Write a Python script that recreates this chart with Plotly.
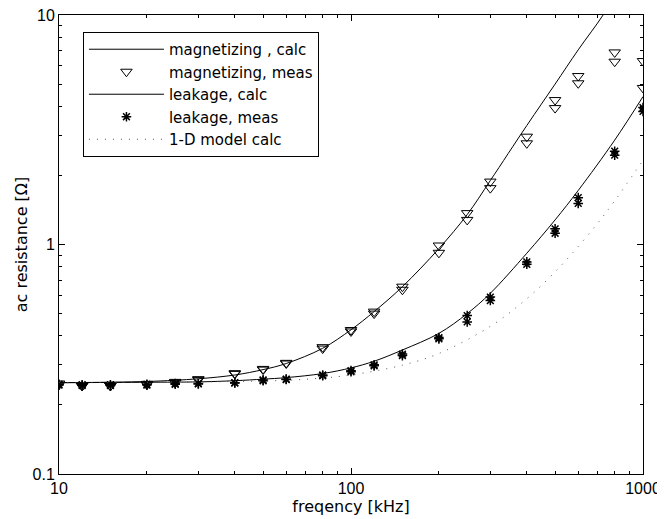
import plotly.graph_objects as go

# ---- data ----
meas_freq = [10, 12, 15, 20, 25, 30, 40, 50, 60, 80, 100, 120, 150, 200, 250, 300, 400, 500, 600, 800, 1000]
mag_meas_1 = [0.248, 0.242, 0.242, 0.247, 0.252, 0.259, 0.275, 0.287, 0.305, 0.357, 0.424, 0.51, 0.655, 0.99, 1.37, 1.88, 2.95, 4.26, 5.42, 6.87, 6.3]
mag_meas_2 = [0.245, 0.242, 0.242, 0.245, 0.250, 0.257, 0.273, 0.285, 0.303, 0.352, 0.418, 0.50, 0.635, 0.92, 1.28, 1.76, 2.76, 3.93, 5.04, 6.26, 4.81]
leak_meas_1 = [0.246, 0.245, 0.245, 0.246, 0.248, 0.248, 0.250, 0.257, 0.259, 0.270, 0.282, 0.299, 0.333, 0.393, 0.49, 0.59, 0.84, 1.17, 1.60, 2.55, 3.95]
leak_meas_2 = [0.244, 0.243, 0.243, 0.244, 0.246, 0.247, 0.249, 0.255, 0.258, 0.268, 0.279, 0.296, 0.328, 0.388, 0.46, 0.57, 0.82, 1.12, 1.51, 2.45, 3.80]

mag_calc_freq = [10, 20, 30, 40, 50, 60, 80, 100, 120, 150, 200, 250, 300, 400, 500, 600, 730, 800]
mag_calc = [0.25, 0.253, 0.26, 0.27, 0.285, 0.303, 0.353, 0.425, 0.51, 0.655, 0.96, 1.35, 1.9, 3.3, 5.0, 7.05, 10.0, 12.2]

leak_calc_freq = [10, 20, 30, 40, 50, 60, 80, 100, 120, 150, 200, 250, 300, 400, 500, 600, 800, 1000]
leak_calc = [0.25, 0.251, 0.252, 0.255, 0.259, 0.263, 0.274, 0.29, 0.31, 0.347, 0.41, 0.5, 0.613, 0.916, 1.28, 1.72, 2.85, 4.41]

model_freq = [10, 20, 40, 60, 80, 100, 150, 200, 300, 400, 500, 600, 700, 800, 1000]
model_calc = [0.25, 0.251, 0.253, 0.256, 0.262, 0.27, 0.298, 0.335, 0.44, 0.58, 0.76, 0.98, 1.24, 1.55, 2.33]

y_tickvals = [0.1, 1, 10]
y_ticktext = ["0.1", "1", "10"]
x_tickvals = [10, 100, 1000]
x_ticktext = ["10", "100", "1000"]

TICKFONT = "Liberation Sans, Arial, Helvetica, sans-serif"
TEXTFONT = "DejaVu Sans, Liberation Sans, Arial, sans-serif"

fig = go.Figure()
fig.add_trace(go.Scatter(
    x=mag_calc_freq, y=mag_calc, mode="lines", name="magnetizing , calc",
    line=dict(color="black", width=1, shape="spline")))
fig.add_trace(go.Scatter(
    x=meas_freq + meas_freq, y=mag_meas_1 + mag_meas_2, mode="markers",
    name="magnetizing, meas",
    marker=dict(symbol="triangle-down-open", size=10, color="black", line=dict(width=1, color="black"))))
fig.add_trace(go.Scatter(
    x=leak_calc_freq, y=leak_calc, mode="lines", name="leakage, calc",
    line=dict(color="black", width=1, shape="spline")))
fig.add_trace(go.Scatter(
    x=meas_freq + meas_freq, y=leak_meas_1 + leak_meas_2, mode="markers",
    name="leakage, meas",
    marker=dict(symbol="asterisk-open", size=8, color="black", line=dict(width=1.5, color="black"))))
fig.add_trace(go.Scatter(
    x=model_freq, y=model_calc, mode="lines", name="1-D model calc",
    line=dict(color="#555555", width=1, dash="1px,7px", shape="spline")))

minor_y = [0.2, 0.3, 0.4, 0.5, 0.6, 0.7, 0.8, 0.9, 2, 3, 4, 5, 6, 7, 8, 9]
minor_x = [20, 30, 40, 50, 60, 70, 80, 90, 200, 300, 400, 500, 600, 700, 800, 900]

# the page body has an 8px margin, so the figure is drawn 8px smaller and offset
fig.update_layout(
    width=657, height=511,
    margin=dict(l=51, r=22, t=7, b=45),
    paper_bgcolor="white", plot_bgcolor="white",
    font=dict(family=TICKFONT, size=16, color="black"),
    showlegend=True,
    legend=dict(
        x=0.041, y=0.963, xanchor="left", yanchor="top",
        bgcolor="white", bordercolor="black", borderwidth=1,
        font=dict(family=TEXTFONT, size=15, color="black"),
        itemwidth=75, tracegroupgap=0,
    ),
    xaxis=dict(
        type="log", range=[1, 3], showgrid=False, zeroline=False, automargin=False,
        showline=True, linecolor="black", linewidth=1, mirror="allticks",
        ticks="inside", ticklen=6, tickcolor="black",
        tickvals=x_tickvals, ticktext=x_ticktext, ticklabeloverflow="allow",
        tickfont=dict(family=TICKFONT, size=16),
        minor=dict(ticks="inside", ticklen=3, tickcolor="black", tickvals=minor_x, showgrid=False),
        title=dict(text="freqency [kHz]", standoff=0, font=dict(family=TEXTFONT, size=16)),
    ),
    yaxis=dict(
        type="log", range=[-1, 1], showgrid=False, zeroline=False, automargin=False,
        showline=True, linecolor="black", linewidth=1, mirror="allticks",
        ticks="inside", ticklen=6, tickcolor="black",
        tickvals=y_tickvals, ticktext=y_ticktext, ticklabeloverflow="allow",
        tickfont=dict(family=TICKFONT, size=16),
        minor=dict(ticks="inside", ticklen=3, tickcolor="black", tickvals=minor_y, showgrid=False),
        title=dict(text="ac resistance [Ω]", standoff=0, font=dict(family=TEXTFONT, size=16)),
    ),
)

fig.write_html("out.html")
